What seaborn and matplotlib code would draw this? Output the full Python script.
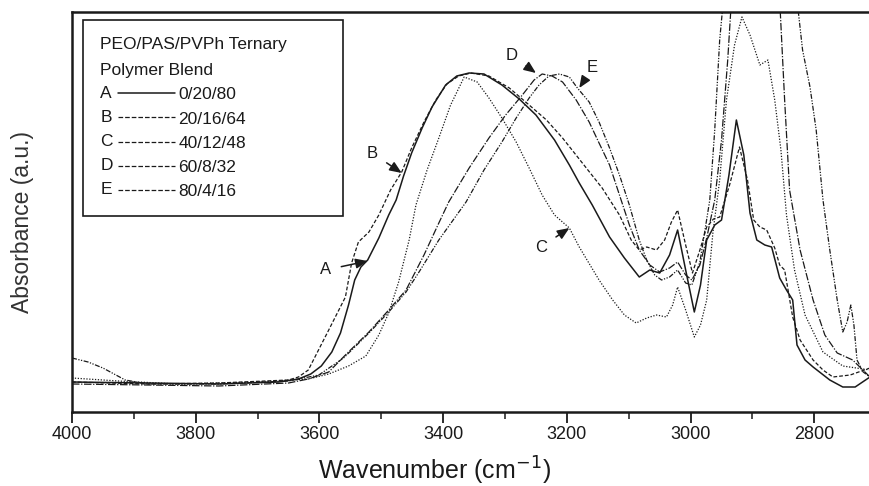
import numpy as np
import pandas as pd
import seaborn as sns
import matplotlib
matplotlib.use("Agg")
import matplotlib.pyplot as plt
from matplotlib.legend_handler import HandlerBase
from matplotlib.lines import Line2D
from matplotlib.text import Text

# ---------------- data ----------------
series_letters = ["A", "B", "C", "D", "E"]
series_labels = ["0/20/80", "20/16/64", "40/12/48", "60/8/32", "80/4/16"]
legend_title = "PEO/PAS/PVPh Ternary\nPolymer Blend"

wn_A = [4000, 3877, 3763, 3666, 3634, 3614, 3597, 3580, 3566, 3553, 3543, 3533, 3522, 3504, 3488, 3476,
        3464, 3451, 3434, 3418, 3396, 3378, 3358, 3334, 3305, 3277, 3250, 3220, 3196, 3180, 3159, 3131,
        3107, 3083, 3066, 3050, 3034, 3021, 3008, 2994, 2984, 2974, 2961, 2950, 2938, 2926, 2914, 2904,
        2893, 2880, 2869, 2856, 2845, 2835, 2828, 2815, 2802, 2775, 2754, 2734, 2710]
ab_A = [7.5, 7.25, 7.0, 7.5, 8.25, 9.5, 11.5, 15, 19.75, 26.75, 33, 36.25, 38, 43.5, 49.25, 53,
        59, 64.75, 71, 76.25, 81.75, 84, 84.75, 84.5, 81.75, 78.25, 74.25, 68, 61.75, 57.25, 51.75, 43.75,
        38.5, 33.75, 35.5, 34.75, 39.25, 45.5, 35.5, 25, 31.75, 43, 46.75, 48, 59.25, 73, 64.25, 49.75,
        43, 41.75, 41.25, 33.5, 30.5, 28, 16.75, 13, 11.25, 8, 6.25, 6.25, 8.75]

wn_B = [4000, 3877, 3763, 3650, 3634, 3618, 3585, 3558, 3548, 3537, 3520, 3504, 3485, 3467, 3451, 3431,
        3412, 3394, 3375, 3355, 3326, 3293, 3261, 3233, 3207, 3175, 3143, 3115, 3096, 3083, 3071, 3055,
        3042, 3031, 3021, 3008, 2997, 2985, 2974, 2963, 2953, 2937, 2921, 2908, 2898, 2888, 2877, 2864,
        2856, 2848, 2835, 2823, 2802, 2786, 2770, 2742, 2710]
ab_B = [7.5, 7, 7.25, 8, 8.75, 10.5, 20.5, 28.75, 37.25, 42.5, 45, 49.25, 55.5, 60, 66, 72.5,
        78, 82, 84, 84.75, 84, 81, 76.75, 73, 68.5, 62.25, 56, 49.25, 43, 40.5, 41.25, 40.5,
        43, 47.5, 50.5, 41.75, 34.75, 40.5, 46.25, 48.25, 48.75, 56.75, 66.25, 58, 48, 46.25, 45.5, 41,
        36.75, 35.5, 23.75, 18, 13, 10.5, 8.75, 9.25, 11]

wn_C = [4000, 3925, 3828, 3699, 3618, 3585, 3553, 3525, 3504, 3488, 3472, 3455, 3444, 3426, 3407, 3388,
        3366, 3345, 3326, 3305, 3282, 3261, 3240, 3220, 3196, 3180, 3148, 3126, 3107, 3088, 3071, 3055,
        3039, 3029, 3021, 3008, 2994, 2984, 2974, 2964, 2953, 2942, 2929, 2917, 2904, 2888, 2875, 2864,
        2854, 2845, 2832, 2815, 2786, 2754, 2710]
ab_C = [8.5, 7.75, 7, 7.5, 8.25, 9.5, 11.5, 14, 19.25, 24.75, 32.5, 43, 51.75, 60.5, 68.5, 76.75,
        83.75, 82.5, 78.5, 73.5, 67.5, 61, 54.25, 49.25, 46, 41.25, 33, 28, 24.25, 22.25, 23.5, 24.25,
        23.75, 26.75, 31.25, 25.5, 18.75, 21.75, 28, 44.75, 58, 78, 91.75, 98.75, 94.25, 86.75, 88, 78,
        65.5, 49.25, 35.5, 24.25, 15, 11.5, 10.5]

wn_D = [4000, 3877, 3763, 3650, 3618, 3585, 3558, 3520, 3488, 3460, 3431, 3407, 3391, 3358, 3326, 3299,
        3272, 3253, 3240, 3224, 3207, 3185, 3164, 3148, 3131, 3115, 3099, 3083, 3066, 3050, 3034, 3021,
        3008, 2998, 2985, 2974, 2961, 2950, 2940, 2934, 2896, 2864, 2856, 2848, 2840, 2823, 2802, 2783,
        2763, 2738, 2710]
ab_D = [7, 6.75, 6.5, 7.25, 8.25, 10, 14.25, 20, 25.5, 30.5, 39.25, 47.25, 52.5, 61, 68.5, 74.25,
        79.25, 83, 84.5, 84, 82.5, 78, 72.5, 67.25, 61.75, 54.25, 46.75, 40.5, 36.75, 35, 36, 37.5,
        34.25, 33, 36.75, 43.5, 53, 68, 88, 103, 118, 108, 103, 78, 55.5, 40.5, 28, 19.25,
        14.75, 13, 8.75]

wn_E = [4000, 3974, 3950, 3914, 3877, 3763, 3650, 3601, 3561, 3520, 3488, 3460, 3439, 3407, 3363, 3334,
        3305, 3282, 3261, 3245, 3229, 3212, 3196, 3183, 3164, 3148, 3131, 3115, 3099, 3083, 3071, 3058,
        3047, 3034, 3021, 3008, 2998, 2985, 2969, 2961, 2953, 2947, 2888, 2840, 2828, 2819, 2807, 2797,
        2786, 2775, 2763, 2754, 2747, 2741, 2736, 2731, 2721, 2710]
ab_E = [13.5, 12.5, 11, 8, 7, 7, 7.75, 9.25, 13.5, 19.75, 25, 30, 35, 43, 52.5, 60.5,
        67.5, 73.5, 78.5, 81.75, 84, 84.5, 83.75, 81, 77.5, 72.5, 66, 59.25, 51.75, 43, 38, 34.25,
        33, 33.75, 35.5, 32.25, 31.75, 37.5, 53, 70.5, 93, 103, 123, 113, 103, 90.5, 81.25, 70.5,
        53, 40.5, 28, 20, 22.5, 26.75, 21.75, 13, 10, 8.75]

# annotation positions (text, arrow tip) in data units
ann_text = {"A": (3590, 35.5), "B": (3515, 64.75), "C": (3242, 41.25), "D": (3290, 89.25), "E": (3159, 86)}
ann_tip = {"A": (3522, 37.75), "B": (3467, 59.75), "C": (3196, 46), "D": (3250, 84.75), "E": (3180, 81)}

# ---------------- styling ----------------
sns.set_theme(style="ticks")
plt.rcParams["font.family"] = ["Liberation Sans", "DejaVu Sans"]

fig = plt.figure(figsize=(8.7, 4.86), dpi=100)
ax = fig.add_axes([72 / 870, 74 / 486, 798 / 870, 400 / 486])

ink = "#1a1a1a"
styles = {
    "A": dict(linestyle="-", lw=1.1),
    "B": dict(linestyle=(0, (3, 1.6)), lw=0.9),
    "C": dict(linestyle=(0, (1, 1.3)), lw=0.9),
    "D": dict(linestyle=(0, (6, 1.3, 1, 1.3)), lw=0.9),
    "E": dict(linestyle=(0, (4, 1.2, 1, 1.2, 1, 1.2)), lw=0.9),
}
data = {"A": (wn_A, ab_A), "B": (wn_B, ab_B), "C": (wn_C, ab_C), "D": (wn_D, ab_D), "E": (wn_E, ab_E)}

handles = []
for letter, lab in zip(series_letters, series_labels):
    wn, ab = data[letter]
    df = pd.DataFrame({"wn": wn, "ab": ab})
    sns.lineplot(data=df, x="wn", y="ab", ax=ax, color=ink, estimator=None, sort=False,
                 label=lab, **styles[letter])
    handles.append(ax.get_lines()[-1])

ax.set_xlim(4000, 2710)
ax.set_ylim(0, 100)
ax.set_xticks([4000, 3800, 3600, 3400, 3200, 3000, 2800])
ax.set_xticks(np.arange(3900, 2700, -200), minor=True)
ax.set_yticks([])
ax.tick_params(axis="x", which="major", direction="out", length=8, width=1.3, colors=ink,
               labelsize=13, pad=2)
ax.tick_params(axis="x", which="minor", direction="out", length=5, width=1.1, colors=ink)
for s in ["left", "bottom", "top"]:
    ax.spines[s].set_linewidth(1.8)
    ax.spines[s].set_color(ink)
ax.spines["right"].set_visible(False)

ax.set_xlabel("Wavenumber (cm$^{-1}$)", fontsize=18, color=ink)
ax.xaxis.set_label_coords((434 - 72) / 798, -(455 - 412) / 400)
ax.set_ylabel("Absorbance (a.u.)", fontsize=16.5, color="#333333", labelpad=27)
ax.yaxis.label.set_y((412 - 222) / 400)

# annotations with arrows
for letter in series_letters:
    ax.annotate(letter, xy=ann_tip[letter], xytext=ann_text[letter], fontsize=12, color=ink,
                ha="center", va="center",
                arrowprops=dict(arrowstyle="-|>,head_length=0.6,head_width=0.25", color=ink, lw=1.1,
                                shrinkA=5, shrinkB=0))


# legend: letter + line sample + label
class LetterHandler(HandlerBase):
    def __init__(self, letter):
        super().__init__()
        self.letter = letter

    def create_artists(self, legend, orig_handle, xdescent, ydescent, width, height, fontsize, trans):
        y = height / 2 - ydescent
        t = Text(-xdescent, y, self.letter, ha="left", va="center", fontsize=fontsize, color=ink,
                 fontfamily=["Liberation Sans", "DejaVu Sans"])
        t.set_transform(trans)
        ln = Line2D([-xdescent + 0.24 * width, -xdescent + width], [y, y], color=ink,
                    lw=orig_handle.get_linewidth(), linestyle=orig_handle.get_linestyle())
        ln.set_transform(trans)
        return [t, ln]


hmap = {h: LetterHandler(l) for h, l in zip(handles, series_letters)}
leg = ax.legend(handles=handles, labels=series_labels, handler_map=hmap, title=legend_title,
                loc="upper left", bbox_to_anchor=(11 / 798, 0, 260 / 798, 392 / 400), mode="expand",
                borderaxespad=0, fontsize=12.5, title_fontsize=12.5, handlelength=4.3,
                handletextpad=0.2, labelspacing=0.52, borderpad=1.0, frameon=True, fancybox=False,
                alignment="left")
leg.get_frame().set_edgecolor(ink)
leg.get_frame().set_linewidth(1.2)
leg.get_frame().set_facecolor("white")
leg.get_frame().set_alpha(1)
for t in leg.get_texts():
    t.set_color(ink)
leg.get_title().set_color(ink)
leg.get_title().set_linespacing(1.9)

fig.savefig("out.png", dpi=100)
